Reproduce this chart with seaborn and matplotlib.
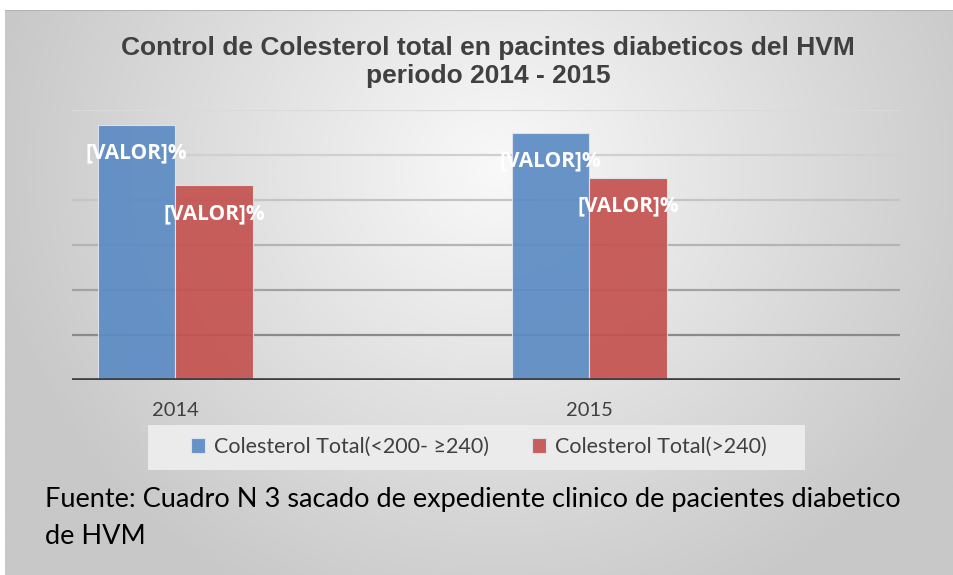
import numpy as np
import pandas as pd
import seaborn as sns
from matplotlib import pyplot as plt
from matplotlib.patches import Rectangle

# datos
years = ['2014', '2015']
series = ['Colesterol Total(<200- ≥240)', 'Colesterol Total(>240)']
normal = [56.7, 55.0]
alto = [43.3, 45.0]
bar_labels = ['[VALOR]%', '[VALOR]%']

df = pd.DataFrame({
    'year': years * 2,
    'serie': [series[0]] * 2 + [series[1]] * 2,
    'valor': normal + alto,
})

sns.set_theme(style='white')
plt.rcParams['font.family'] = ['Lato', 'DejaVu Sans']

fig = plt.figure(figsize=(9.54, 5.75), dpi=100)
fig.patch.set_facecolor('white')

# fondo con degradado
bg = fig.add_axes([5 / 954, 0, 949 / 954, 565 / 575], zorder=-2)
xx, yy = np.meshgrid(np.linspace(0, 1, 300), np.linspace(1, 0, 200))
d = np.sqrt(((xx - 0.52) / 0.6) ** 2 + ((yy - 0.72) / 0.95) ** 2)
g = np.clip(249 - 54 * d, 200, 249) / 255
bg.imshow(np.dstack([g, g, g]), aspect='auto', extent=[0, 1, 0, 1])
bg.axhline(1, color='#b4b4b4', lw=1.5)
bg.set_axis_off()

ax = fig.add_axes([72 / 954, 1 - 380 / 575, 828 / 954, 270 / 575])
ax.patch.set_alpha(0)

# lineas de cuadricula
grid_cols = ['#8a8a8a', '#a2a2a2', '#b4b4b4', '#c4c4c4', '#d0d0d0', '#dadada']
for v, c in zip(range(10, 70, 10), grid_cols):
    ax.axhline(v, color=c, lw=1.6, zorder=0)

sns.barplot(data=df, x='year', y='valor', hue='serie', order=years, hue_order=series,
            palette=['#5b8bc4', '#c4524f'], saturation=1, width=0.375, gap=0, alpha=0.92,
            edgecolor='#dfe6ef', linewidth=0.8, ax=ax, zorder=2)

for cont in ax.containers:
    ax.bar_label(cont, labels=bar_labels, padding=-28, color='white',
                 fontsize=15, fontweight='bold', family=['Open Sans', 'DejaVu Sans'])

ax.axhline(0, color='#404040', lw=3.4, zorder=3)
ax.set_xlim(-0.25, 1.75)
ax.set_ylim(0, 60)
ax.set_yticks([])
ax.set_xlabel('')
ax.set_ylabel('')
ax.tick_params(axis='x', length=0, pad=16, labelsize=14.5, labelcolor='#404040')
for s in ax.spines.values():
    s.set_visible(False)

# leyenda
handles, labels = ax.get_legend_handles_labels()
ax.get_legend().remove()
fig.patches.append(Rectangle((148 / 954, 1 - 470 / 575), 657 / 954, 45 / 575,
                             transform=fig.transFigure, facecolor='#ebebeb',
                             edgecolor='none', zorder=-1))
fig.legend(handles, labels, loc='center', bbox_to_anchor=(479 / 954, 1 - 447 / 575),
           ncol=2, frameon=False, fontsize=15.5, handlelength=0.65, handleheight=0.65,
           handletextpad=0.4, columnspacing=2.0, labelcolor='#404040')

plt.figtext(488 / 954, 1 - 62 / 575, 'Control de Colesterol total en pacintes diabeticos del HVM\nperiodo 2014 - 2015',
            ha='center', va='center', fontsize=19, fontweight='bold', color='#404040',
            family=['Liberation Sans', 'DejaVu Sans'], linespacing=1.25)

plt.figtext(45 / 954, 1 - 518 / 575, 'Fuente: Cuadro N 3 sacado de expediente clinico de pacientes diabetico\nde HVM',
            ha='left', va='center', fontsize=19.5, color='black', linespacing=1.55)

plt.savefig('out.png', dpi=100)
